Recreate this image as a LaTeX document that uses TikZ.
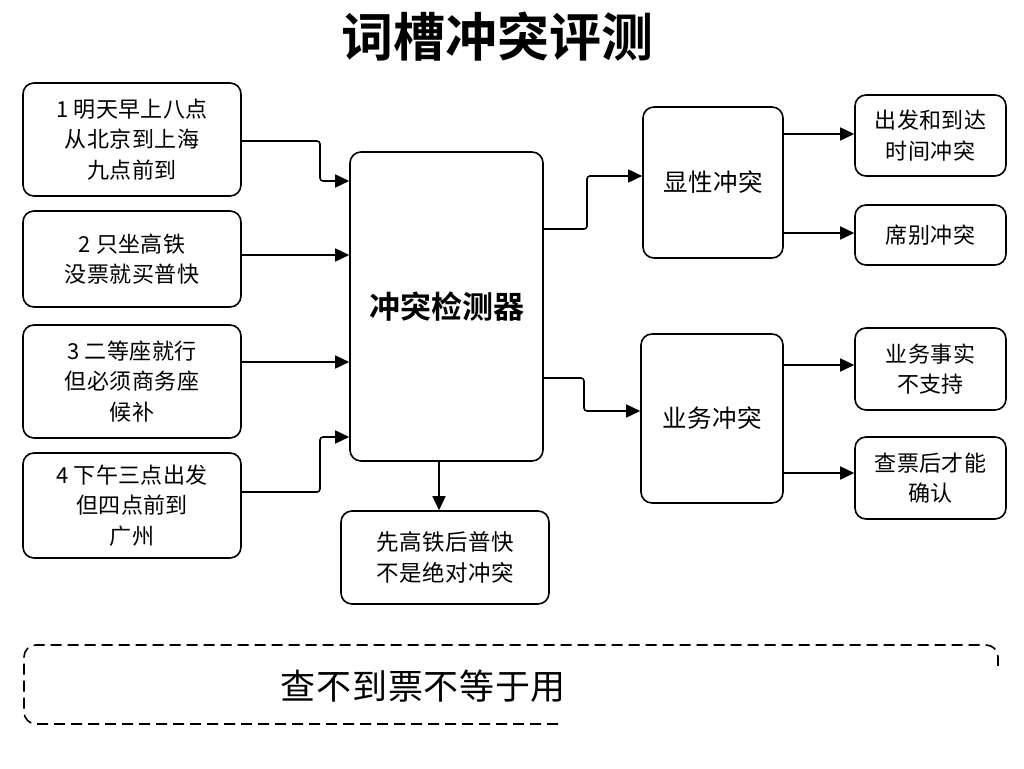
\documentclass[tikz,border=0pt]{standalone}
\usepackage{fontspec}
\setmainfont{Noto Sans CJK SC}[LetterSpace=2]
\newfontfamily\cjkbold{Noto Sans CJK SC Bold}
\usetikzlibrary{arrows.meta,calc}
\begin{document}
\begin{tikzpicture}[x=1pt,y=-1pt,
  box/.style={draw=black,line width=1.6pt,rounded corners=11pt,align=center,inner sep=0pt,
    font=\fontsize{22}{30.5}\selectfont},
  arr/.style={draw=black,line width=1.6pt,rounded corners=3pt,-{Triangle[length=14pt,width=13pt]}}]
\useasboundingbox[fill=white] (0,0) rectangle (1024,768);
\node[font=\cjkbold\fontsize{52}{56}\selectfont] (title) at (497,37) {词槽冲突评测};
% left boxes
\node[box,minimum width=218pt,minimum height=113pt] (b1) at (132,139.5) {1 明天早上八点\\从北京到上海\\九点前到};
\node[box,minimum width=218pt,minimum height=96pt] (b2) at (132,259) {2 只坐高铁\\没票就买普快};
\node[box,minimum width=218pt,minimum height=113pt] (b3) at (132,381.5) {3 二等座就行\\但必须商务座\\候补};
\node[box,minimum width=218pt,minimum height=105pt] (b4) at (132,505.5) {4 下午三点出发\\但四点前到\\广州};
% detector
\node[box,minimum width=193pt,minimum height=309pt,font=\cjkbold\fontsize{31}{36}\selectfont] (det) at (446.5,306.5) {冲突检测器};
\node[box,minimum width=208pt,minimum height=93pt,font=\fontsize{22.5}{31}\selectfont] (note) at (445,557.5) {先高铁后普快\\不是绝对冲突};
% middle
\node[box,minimum width=140pt,minimum height=151pt,font=\fontsize{24.5}{30}\selectfont] (m1) at (713,182.5) {显性冲突};
\node[box,minimum width=142pt,minimum height=169pt,font=\fontsize{24.5}{30}\selectfont] (m2) at (712,418.5) {业务冲突};
% right
\node[box,minimum width=151pt,minimum height=81pt] (r1) at (930.5,135.5) {出发和到达\\时间冲突};
\node[box,minimum width=151pt,minimum height=60pt] (r2) at (930.5,235) {席别冲突};
\node[box,minimum width=151pt,minimum height=82pt] (r3) at (930.5,369) {业务事实\\不支持};
\node[box,minimum width=151pt,minimum height=82pt] (r4) at (930.5,478) {查票后才能\\确认};
% connectors left -> detector
\draw[arr] (b1.east |- 0,141) -- (320,141) -- (320,181) -- (det.west |- 0,181);
\draw[arr] (b2.east |- 0,255) -- (det.west |- 0,255);
\draw[arr] (b3.east |- 0,362) -- (det.west |- 0,362);
\draw[arr] (b4.east |- 0,492) -- (320,492) -- (320,437) -- (det.west |- 0,437);
% detector -> note
\draw[arr] (det.south -| 439,0) -- (note.north -| 439,0);
% detector -> middle
\draw[arr] (det.east |- 0,229) -- (587,229) -- (587,176) -- (m1.west |- 0,176);
\draw[arr] (det.east |- 0,378) -- (584,378) -- (584,411) -- (m2.west |- 0,411);
% middle -> right
\draw[arr] (m1.east |- 0,134) -- (r1.west |- 0,134);
\draw[arr] (m1.east |- 0,233) -- (r2.west |- 0,233);
\draw[arr] (m2.east |- 0,365) -- (r3.west |- 0,365);
\draw[arr] (m2.east |- 0,473) -- (r4.west |- 0,473);
% bottom dashed box (partially shown)
\coordinate (dbl) at (558,724);
\draw[line width=1.6pt,dash pattern=on 11pt off 6pt] (dbl) -- (36,724) arc[start angle=90,end angle=180,radius=12] -- (24,657) arc[start angle=180,end angle=270,radius=12] -- (986,645) arc[start angle=-90,end angle=0,radius=12] -- (998,668);
\node[font=\fontsize{35}{40}\selectfont,anchor=east,inner sep=0pt] (bt) at (566,686) {查不到票不等于用};
\end{tikzpicture}
\end{document}
